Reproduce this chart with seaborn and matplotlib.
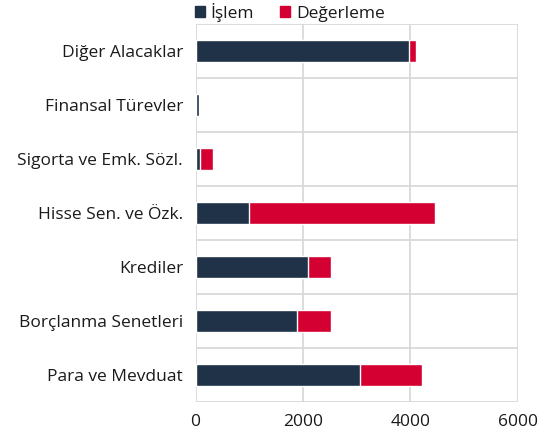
import numpy as np
import pandas as pd
import seaborn as sns
import matplotlib.pyplot as plt
from matplotlib.patches import Patch

# data
categories = ["Diğer Alacaklar", "Finansal Türevler", "Sigorta ve Emk. Sözl.",
              "Hisse Sen. ve Özk.", "Krediler", "Borçlanma Senetleri", "Para ve Mevduat"]
islem = [3980, 65, 90, 1000, 2100, 1895, 3070]
degerleme = [120, 10, 235, 3460, 415, 620, 1140]

dark = "#1f3247"
red = "#d50032"
grid_col = "#d9d9d9"
text_col = "#1a1a1a"

df = pd.DataFrame({"kategori": categories, "islem": islem, "degerleme": degerleme})
df["toplam"] = df["islem"] + df["degerleme"]

sns.set_theme(style="white")
plt.rcParams["font.family"] = ["Open Sans", "DejaVu Sans"]

fig = plt.figure(figsize=(5.44, 4.42), dpi=100)
ax = fig.add_axes([0.3594, 0.0905, 0.5923, 0.855])

# stacked: total in red, then İşlem on top
sns.barplot(data=df, x="toplam", y="kategori", order=categories, color=red,
            width=0.41, orient="h", ax=ax, saturation=1)
sns.barplot(data=df, x="islem", y="kategori", order=categories, color=dark,
            width=0.41, orient="h", ax=ax, saturation=1)

ax.set_xlim(0, 6000)
ax.set_ylim(6.5, -0.5)
ax.set_xticks([0, 2000, 4000, 6000])
ax.set_xlabel("")
ax.set_ylabel("")

ax.set_yticks(np.arange(-0.5, 7, 1), minor=True)
ax.grid(axis="x", which="major", color=grid_col, linewidth=1.3)
ax.grid(axis="y", which="minor", color=grid_col, linewidth=1.3)
ax.grid(axis="y", which="major", visible=False)
ax.set_axisbelow(True)
for s in ax.spines.values():
    s.set_visible(False)

ax.tick_params(axis="y", which="major", length=0, pad=9, labelsize=12.5, labelcolor=text_col)
ax.tick_params(axis="y", which="minor", length=5.5, width=1.3, color=grid_col)
ax.tick_params(axis="x", length=0, pad=8.5, labelsize=12.5, labelcolor=text_col)

handles = [Patch(color=dark, label="İşlem"), Patch(color=red, label="Değerleme")]
fig.legend(handles=handles, loc="center", bbox_to_anchor=(290 / 544, 1 - 12 / 442),
           ncol=2, frameon=False, fontsize=12.5, handlelength=0.58, handleheight=0.58,
           handletextpad=0.35, columnspacing=1.5, labelcolor=text_col)

fig.savefig("out.png", dpi=100)
